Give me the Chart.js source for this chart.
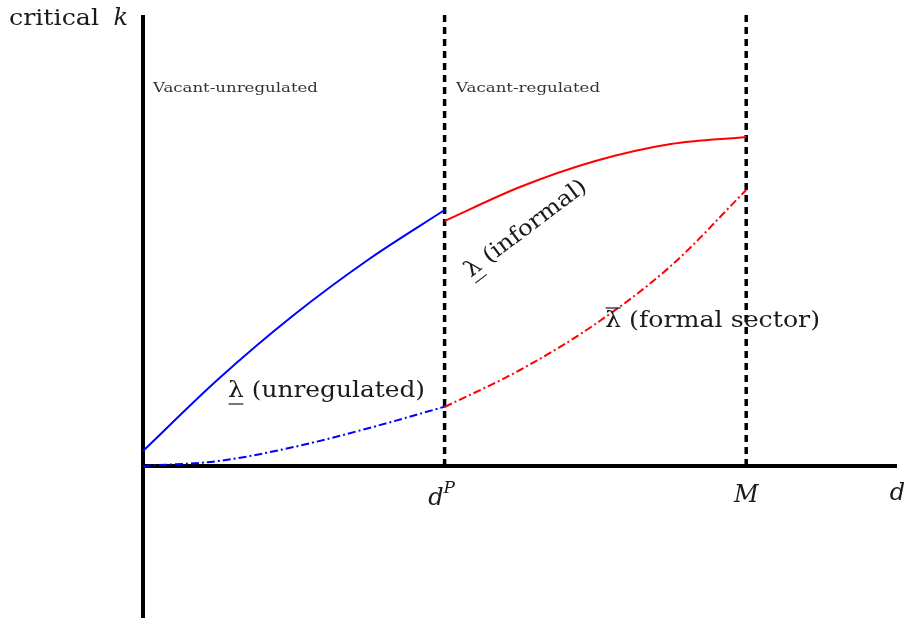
<!DOCTYPE html>
<html>
<head>
<meta charset="utf-8">
<script src="https://cdn.jsdelivr.net/npm/chart.js@4.4.1/dist/chart.umd.min.js"></script>
<style>
  html, body { margin: 0; padding: 0; background: #fff; }
  #wrap { width: 907px; height: 620px; }
</style>
</head>
<body>
<div id="wrap"><canvas id="myChart"></canvas></div>
<script>
// d on the horizontal axis, critical k on the vertical axis
const xRange = [0, 2.5];
const kRange = [-1.52, 4.51];

// thresholds d^P and M
const thresholds = [1, 2];

// lambda underbar, unregulated region (blue solid)
const unregX = [0, 0.25, 0.5, 0.75, 1.0];
const unregK = [0.15, 0.87, 1.51, 2.07, 2.56];

// lambda bar, unregulated region (blue dash-dot)
const barUnregX = [0, 0.25, 0.5, 0.75, 1.0];
const barUnregK = [0, 0.05, 0.19, 0.38, 0.593];

// lambda underbar, informal (red solid)
const informalX = [1.0, 1.25, 1.5, 1.75, 2.0];
const informalK = [2.45, 2.79, 3.05, 3.22, 3.29];

// lambda bar, formal sector (red dash-dot)
const formalX = [1.0, 1.25, 1.5, 1.75, 2.0];
const formalK = [0.59, 0.96, 1.42, 2.0, 2.76];

function pts(xs, ys) {
  return xs.map((x, i) => ({ x: x, y: ys[i] }));
}

const dashDot = [8, 3, 2, 3];

// chart.js paints dataset 0 last, so the curves go first to sit on top
let datasets = [
  {
    data: pts(unregX, unregK),
    borderColor: "#0000ff",
    borderWidth: 2,
    cubicInterpolationMode: "monotone",
  },
  {
    data: pts(barUnregX, barUnregK),
    borderColor: "#0000ff",
    borderWidth: 2,
    borderDash: dashDot,
    cubicInterpolationMode: "monotone",
  },
  {
    data: pts(informalX, informalK),
    borderColor: "#ff0000",
    borderWidth: 2,
    cubicInterpolationMode: "monotone",
  },
  {
    data: pts(formalX, formalK),
    borderColor: "#ff0000",
    borderWidth: 2,
    borderDash: dashDot,
    cubicInterpolationMode: "monotone",
  },
];

for (const t of thresholds) {
  datasets.push({
    data: pts([t, t], [0, kRange[1]]),
    borderColor: "#000",
    borderWidth: 3.5,
    borderDash: [7, 5],
  });
}

datasets.push(
  {
    data: pts([0, 0], [kRange[0], kRange[1]]),
    borderColor: "#000",
    borderWidth: 4,
  },
  {
    data: pts([xRange[0], xRange[1]], [0, 0]),
    borderColor: "#000",
    borderWidth: 4,
  }
);

for (const ds of datasets) ds.clip = false;

const serif = '"DejaVu Serif", "Liberation Serif", serif';

// draws str scaled horizontally to a given width; returns the x scale factor
function drawFit(ctx, str, width, align) {
  const w = ctx.measureText(str).width;
  const s = width ? width / w : 1;
  ctx.save();
  ctx.scale(s, 1);
  ctx.textAlign = align || "left";
  ctx.fillText(str, 0, 0);
  ctx.restore();
  return s;
}

function lambdaMark(ctx, s, under) {
  const lw = ctx.measureText("λ").width * s;
  ctx.save();
  ctx.lineWidth = 1.2;
  ctx.strokeStyle = ctx.fillStyle;
  ctx.beginPath();
  if (under) {
    ctx.moveTo(0.5, 7);
    ctx.lineTo(lw - 0.5, 7);
  } else {
    ctx.moveTo(0.5, -19);
    ctx.lineTo(lw - 0.5, -19);
  }
  ctx.stroke();
  ctx.restore();
}

const labelPlugin = {
  id: "labels",
  afterDatasetsDraw(chart) {
    const ctx = chart.ctx;
    const xs = chart.scales.x;
    const ys = chart.scales.y;
    const X = (v) => xs.getPixelForValue(v);
    const Y = (v) => ys.getPixelForValue(v);

    ctx.save();
    ctx.textBaseline = "alphabetic";

    // region names
    ctx.fillStyle = "#333";
    ctx.font = "12px " + serif;
    ctx.save();
    ctx.translate(X(0.033), Y(3.74));
    drawFit(ctx, "Vacant-unregulated", 165);
    ctx.restore();
    ctx.save();
    ctx.translate(X(1.038), Y(3.74));
    drawFit(ctx, "Vacant-regulated", 144);
    ctx.restore();

    ctx.fillStyle = "#1a1a1a";
    ctx.font = "22px " + serif;

    // lambda (unregulated)
    ctx.save();
    ctx.translate(X(0.282), Y(0.69));
    let s = drawFit(ctx, "λ (unregulated)", 197);
    lambdaMark(ctx, s, true);
    ctx.restore();

    // lambda (informal), rotated
    ctx.save();
    ctx.translate(X(1.267), Y(2.38));
    ctx.rotate((-37 * Math.PI) / 180);
    ctx.translate(-147 / 2, 7);
    s = drawFit(ctx, "λ (informal)", 147);
    lambdaMark(ctx, s, true);
    ctx.restore();

    // lambda bar (formal sector)
    ctx.save();
    ctx.translate(X(1.532), Y(1.39));
    s = drawFit(ctx, "λ (formal sector)", 215);
    lambdaMark(ctx, s, false);
    ctx.restore();

    // axis names
    ctx.font = "22px " + serif;
    ctx.save();
    ctx.translate(9, Y(4.41));
    drawFit(ctx, "critical", 90);
    ctx.restore();
    ctx.font = "italic 24px " + serif;
    ctx.textAlign = "right";
    ctx.fillText("k", 128, Y(4.41));

    ctx.fillText("d", X(2.527), Y(-0.34));

    // threshold ticks
    ctx.textAlign = "center";
    ctx.fillText("M", X(thresholds[1]), Y(-0.36));
    ctx.textAlign = "right";
    ctx.fillText("d", X(thresholds[0]) - 1, Y(-0.39));
    ctx.font = "italic 17px " + serif;
    ctx.textAlign = "left";
    ctx.fillText("P", X(thresholds[0]) - 1, Y(-0.265));

    ctx.restore();
  },
};

const ctx = document.getElementById("myChart");

new Chart(ctx, {
  type: "line",
  data: { datasets: datasets },
  options: {
    responsive: true,
    maintainAspectRatio: false,
    animation: false,
    layout: {
      padding: { left: 143, right: 10, top: 15, bottom: 2 },
    },
    elements: {
      point: { radius: 0 },
      line: { fill: false, borderCapStyle: "butt" },
    },
    plugins: {
      legend: { display: false },
      tooltip: { enabled: false },
    },
    scales: {
      x: {
        type: "linear",
        min: xRange[0],
        max: xRange[1],
        display: false,
      },
      y: {
        type: "linear",
        min: kRange[0],
        max: kRange[1],
        display: false,
      },
    },
  },
  plugins: [labelPlugin],
});
</script>
</body>
</html>
